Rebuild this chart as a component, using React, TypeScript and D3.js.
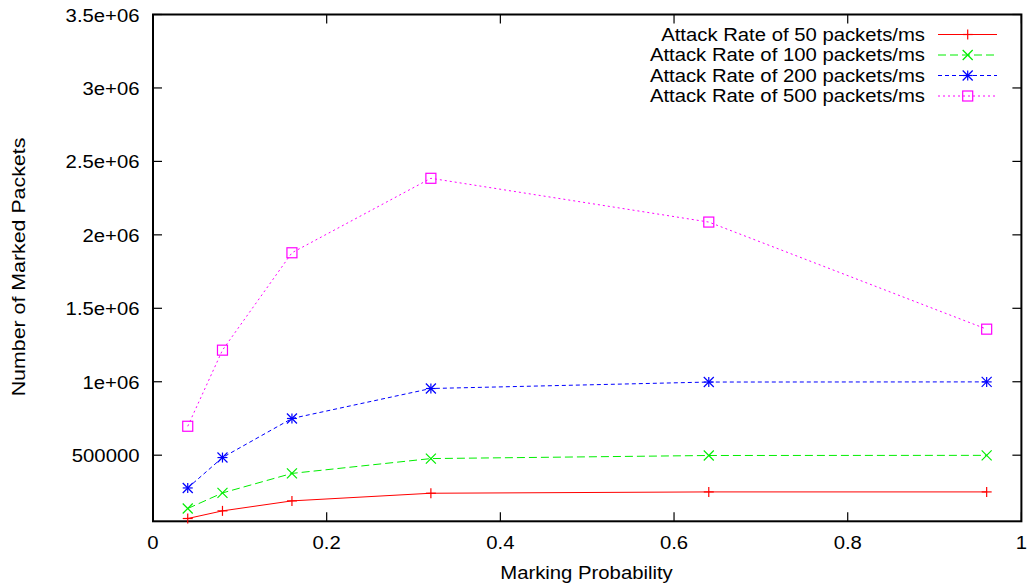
import React, { useEffect, useRef } from 'react';
import * as d3 from 'd3';

// marking probabilities on the x axis
const probs = [0.04, 0.08, 0.16, 0.32, 0.64, 0.96];

// number of marked packets per attack rate
const rate50 = [69000, 121000, 189000, 241000, 250000, 250000];
const rate100 = [137000, 243000, 376000, 477000, 498000, 499000];
const rate200 = [277000, 484000, 750000, 954000, 998000, 999000];
const rate500 = [697000, 1215000, 1878000, 2385000, 2087000, 1358000];

const seriesNames = [
  'Attack Rate of 50 packets/ms',
  'Attack Rate of 100 packets/ms',
  'Attack Rate of 200 packets/ms',
  'Attack Rate of 500 packets/ms',
];

const xTicks = [0, 0.2, 0.4, 0.6, 0.8, 1];
const xTickLabels = ['0', '0.2', '0.4', '0.6', '0.8', '1'];
const yTicks = [500000, 1000000, 1500000, 2000000, 2500000, 3000000, 3500000];
const yTickLabels = ['500000', '1e+06', '1.5e+06', '2e+06', '2.5e+06', '3e+06', '3.5e+06'];

const App: React.FC = () => {
  const svgRef = useRef<SVGSVGElement>(null);

  useEffect(() => {
    const W = 1029, H = 588;
    const left = 153, right = 1021.4, top = 14.5, bottom = 521.3;
    const font = 'Liberation Sans, Arial, Helvetica, sans-serif';
    const fs = 17.5;
    const sx = 1.16; // gnuplot output was stretched horizontally

    const svg = d3.select(svgRef.current)
      .attr('width', W)
      .attr('height', H);
    svg.selectAll('*').remove();

    const x = d3.scaleLinear().domain([0, 1]).range([left, right]);
    const y = d3.scaleLinear().domain([50000, 3500000]).range([bottom, top]);

    const styles = [
      { color: '#ff0000', dash: null as string | null, marker: 'plus' },
      { color: '#00ee00', dash: '8,4', marker: 'cross' },
      { color: '#0000ff', dash: '4,3', marker: 'star' },
      { color: '#ff00ff', dash: '2,3', marker: 'square' },
    ];
    const allSeries = [rate50, rate100, rate200, rate500];

    const text = (tx: number, ty: number, s: string, anchor: string, rot = 0, scale = sx) => {
      svg.append('text')
        .attr('transform', `translate(${tx},${ty}) rotate(${rot}) scale(${scale},1)`)
        .attr('text-anchor', anchor)
        .attr('font-family', font)
        .attr('font-size', fs)
        .attr('fill', '#000')
        .text(s);
    };

    const drawMarker = (g: any, cx: number, cy: number, kind: string, color: string) => {
      const r = 5;
      const seg = (x1: number, y1: number, x2: number, y2: number) =>
        g.append('line').attr('x1', x1).attr('y1', y1).attr('x2', x2).attr('y2', y2)
          .attr('stroke', color).attr('stroke-width', 1.2);
      if (kind === 'plus' || kind === 'star') {
        seg(cx - r, cy, cx + r, cy);
        seg(cx, cy - r, cx, cy + r);
      }
      if (kind === 'cross' || kind === 'star') {
        seg(cx - r, cy - r, cx + r, cy + r);
        seg(cx - r, cy + r, cx + r, cy - r);
      }
      if (kind === 'square') {
        g.append('rect').attr('x', cx - r).attr('y', cy - r)
          .attr('width', 2 * r).attr('height', 2 * r)
          .attr('fill', 'none').attr('stroke', color).attr('stroke-width', 1.2);
      }
    };

    // ticks, mirrored on all sides
    const tl = 9;
    xTicks.forEach((t, i) => {
      const px = x(t);
      svg.append('line').attr('x1', px).attr('x2', px).attr('y1', bottom).attr('y2', bottom - tl)
        .attr('stroke', '#000').attr('stroke-width', 1.2);
      svg.append('line').attr('x1', px).attr('x2', px).attr('y1', top).attr('y2', top + tl)
        .attr('stroke', '#000').attr('stroke-width', 1.2);
      text(px, 549, xTickLabels[i], 'middle');
    });
    yTicks.forEach((t, i) => {
      const py = y(t);
      svg.append('line').attr('x1', left).attr('x2', left + tl).attr('y1', py).attr('y2', py)
        .attr('stroke', '#000').attr('stroke-width', 1.2);
      svg.append('line').attr('x1', right).attr('x2', right - tl).attr('y1', py).attr('y2', py)
        .attr('stroke', '#000').attr('stroke-width', 1.2);
      text(139.5, py + 7, yTickLabels[i], 'end');
    });

    // frame
    svg.append('rect')
      .attr('x', left).attr('y', top)
      .attr('width', right - left).attr('height', bottom - top)
      .attr('fill', 'none').attr('stroke', '#000').attr('stroke-width', 2);

    // axis titles
    text(586.5, 579, 'Marking Probability', 'middle');
    text(25, 267, 'Number of Marked Packets', 'middle', -90, 1.22);

    // series
    const line = d3.line<number>()
      .x((_, i) => x(probs[i]))
      .y(d => y(d));

    allSeries.forEach((vals, si) => {
      const st = styles[si];
      const g = svg.append('g');
      const p = g.append('path')
        .datum(vals)
        .attr('fill', 'none')
        .attr('stroke', st.color)
        .attr('stroke-width', 1)
        .attr('d', line);
      if (st.dash) p.attr('stroke-dasharray', st.dash);
      vals.forEach((v, i) => drawMarker(g, x(probs[i]), y(v), st.marker, st.color));
    });

    // legend
    const legY = [34.5, 55, 75.5, 96];
    seriesNames.forEach((name, si) => {
      const st = styles[si];
      const ly = legY[si];
      text(925, ly + 6.3, name, 'end');
      const g = svg.append('g');
      const l = g.append('line')
        .attr('x1', 938).attr('x2', 997).attr('y1', ly).attr('y2', ly)
        .attr('stroke', st.color).attr('stroke-width', 1);
      if (st.dash) l.attr('stroke-dasharray', st.dash);
      drawMarker(g, 967.7, ly, st.marker, st.color);
    });
  }, []);

  return (
    <svg
      ref={svgRef}
      style={{ position: 'absolute', left: 0, top: 0, background: '#fff' }}
    ></svg>
  );
};

export default App;
